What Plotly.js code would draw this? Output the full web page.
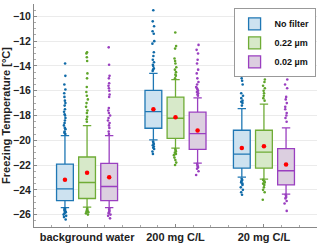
<!DOCTYPE html>
<html><head><meta charset="utf-8">
<script src="https://cdn.plot.ly/plotly-3.0.1.min.js"></script>
<style>html,body{margin:0;padding:0;background:#fff}#c{width:320px;height:246px}</style>
</head><body><div id="c"></div>
<script>
const categories = ["background water", "200 mg C/L", "20 mg C/L"];
const seriesNames = ["No filter", "0.22 µm", "0.02 µm"];

// per series: [bg, 200mg, 20mg]
const q1 = [[-24.87, -19.03, -22.25], [-24.70, -19.84, -22.25], [-24.87, -20.73, -23.60]];
const medians = [[-23.92, -17.68, -21.11], [-23.41, -18.22, -20.95], [-23.73, -19.46, -22.46]];
const q3 = [[-21.92, -15.97, -19.19], [-21.35, -16.51, -19.19], [-21.87, -17.73, -20.68]];
const lowerWhisker = [[-25.43, -19.97, -22.98], [-25.40, -20.63, -23.14], [-25.43, -21.84, -24.35]];
const upperWhisker = [[-19.63, -14.60, -17.45], [-18.81, -15.10, -17.08], [-19.62, -16.57, -19.00]];
const means = [[-23.19, -17.49, -20.62], [-22.62, -18.14, -20.49], [-22.98, -19.22, -21.95]];

const outNoFilter = [
  [-13.8, -14.8, -15.5, -15.9, -16.2, -16.5, -16.8, -17.0, -17.2, -17.5, -17.7, -17.9, -18.0, -18.2, -18.4, -18.6, -18.8, -19.0, -19.1, -19.3, -19.4, -19.5,
   -25.5, -25.55, -25.6, -25.65, -25.7, -25.75, -25.8, -25.9, -26.0, -26.1, -26.2, -26.4],
  [-9.5, -10.4, -10.8, -11.2, -11.4, -12.0, -12.2, -12.9, -13.2, -13.5, -13.7, -13.9, -14.0, -14.2, -14.3, -14.4,
   -20.1, -20.2, -20.3, -20.4, -20.5, -20.6, -20.7, -20.9, -21.1],
  [-13.4, -13.7, -14.3, -14.5, -15.0, -15.2, -15.5, -16.2, -16.4, -16.6, -16.8, -16.9, -17.0, -17.2,
   -23.1, -23.2, -23.3, -23.4, -23.5, -23.6, -23.8, -24.0, -24.2, -24.4]
];
const out022 = [
  [-12.9, -13.0, -13.3, -13.6, -14.6, -15.0, -15.7, -16.1, -16.4, -16.7, -17.0, -17.3, -17.6, -17.8, -18.1, -18.3, -18.5,
   -25.5, -25.6, -25.65, -25.7, -25.75, -25.8, -25.9, -26.0],
  [-11.3, -12.4, -12.6, -13.4, -13.6, -13.8, -14.1, -14.3, -14.5, -14.7, -14.8, -15.0,
   -20.7, -20.8, -20.9, -21.0, -21.1, -21.2, -21.4, -21.6, -21.8, -22.0],
  [-12.8, -13.3, -13.6, -14.2, -14.4, -15.1, -15.3, -15.6, -15.8, -16.0, -16.2, -16.4, -16.6, -16.8,
   -23.2, -23.3, -23.4, -23.5, -23.6, -23.8, -24.0, -24.2, -24.8]
];
const out002 = [
  [-12.5, -13.9, -14.8, -15.0, -15.4, -15.6, -15.8, -16.0, -16.3, -16.5, -17.4, -17.6, -17.8, -18.0, -18.2, -18.4, -18.6, -18.8, -19.0, -19.3, -19.5,
   -25.5, -25.6, -25.7, -25.8, -25.9, -26.0, -26.1, -26.3],
  [-12.3, -12.7, -13.0, -13.5, -13.8, -14.3, -14.6, -15.0, -15.3, -15.5, -15.7, -15.8, -15.9, -16.0, -16.1, -16.2, -16.3, -16.4,
   -21.9, -22.0, -22.1, -22.2, -22.3, -22.5, -22.8],
  [-14.2, -14.4, -15.1, -15.5, -15.8, -16.5, -16.7, -17.0, -17.3, -17.5, -17.8, -18.0, -18.2, -18.5,
   -24.4, -24.5, -24.6, -24.7, -24.9, -25.1, -25.7]
];
const outliers = [outNoFilter, out022, out002];

const lineColors = ["#1f77b4", "#6fac36", "#9a3fc0"];
const fillColors = ["#cde2f0", "#d7e9c9", "#dccfe0"];
const pointColors = ["#0f6aa8", "#5fa52a", "#9a3fc0"];
const offsets = [-0.25, 0, 0.25];
const boxWidth = 0.19;

const traces = [];
const catIdx = categories.map((c, i) => i);
for (let s = 0; s < 3; s++) {
  const xs = catIdx.map(i => i + offsets[s]);
  traces.push({
    type: 'box', orientation: 'v', name: seriesNames[s], x: xs,
    q1: q1[s], median: medians[s], q3: q3[s],
    lowerfence: lowerWhisker[s], upperfence: upperWhisker[s],
    width: boxWidth, whiskerwidth: 0.5, boxpoints: false,
    fillcolor: fillColors[s], line: {color: lineColors[s], width: 1.3},
    showlegend: true
  });
}
for (let s = 0; s < 3; s++) {
  const px = [], py = [];
  outliers[s].forEach((arr, i) => arr.forEach(v => { px.push(i + offsets[s]); py.push(v); }));
  traces.push({
    type: 'box', x: px, y: py, boxpoints: 'all', jitter: 0.2, pointpos: 0,
    width: boxWidth, fillcolor: 'rgba(0,0,0,0)', line: {width: 0, color: 'rgba(0,0,0,0)'},
    marker: {color: pointColors[s], size: 2.6}, showlegend: false, hoverinfo: 'y'
  });
}
for (let s = 0; s < 3; s++) {
  traces.push({
    type: 'scatter', mode: 'markers', x: catIdx.map(i => i + offsets[s]), y: means[s],
    marker: {color: '#ff0000', size: 4.5}, showlegend: false
  });
}

const layout = {
  width: 320, height: 246,
  margin: {l: 34, r: 3, t: 4, b: 19},
  paper_bgcolor: '#fff', plot_bgcolor: '#fff',
  font: {family: 'Liberation Sans, Arial, sans-serif', color: '#222', size: 10},
  showlegend: true,
  boxmode: 'overlay',
  xaxis: {
    range: [-0.6, 2.6], tickvals: catIdx, ticktext: categories,
    showgrid: false, zeroline: false, showline: true, linecolor: '#888', linewidth: 1,
    ticks: 'inside', ticklen: 3, tickcolor: '#888',
    minor: {dtick: 0.2, ticks: 'inside', ticklen: 2, tickcolor: '#aaa', showgrid: false},
    tickfont: {size: 11, family: 'Liberation Sans, Arial, sans-serif', weight: 'bold', color: '#222'}
  },
  yaxis: {
    range: [-27, -9], dtick: 2, tick0: -10,
    showgrid: true, gridcolor: '#ebebeb', gridwidth: 1, zeroline: false,
    showline: true, linecolor: '#888', linewidth: 1,
    ticks: 'inside', ticklen: 3, tickcolor: '#888',
    minor: {dtick: 0.5, ticks: 'inside', ticklen: 2, tickcolor: '#aaa', showgrid: false},
    tickfont: {size: 10.5, family: 'Liberation Sans, Arial, sans-serif', weight: 'bold', color: '#222'},
    title: {text: 'Freezing Temperature [°C]', standoff: 4,
            font: {size: 11, family: 'Liberation Sans, Arial, sans-serif', weight: 'bold', color: '#222'}}
  },
  legend: {
    x: 0.995, y: 0.98, xanchor: 'right', yanchor: 'top',
    bgcolor: '#fff', bordercolor: '#999', borderwidth: 1,
    font: {size: 9, family: 'Liberation Sans, Arial, sans-serif', weight: 'bold', color: '#111'},
    tracegroupgap: 0, itemwidth: 30
  }
};
Plotly.newPlot('c', traces, layout, {staticPlot: true, displayModeBar: false});
</script></body></html>
